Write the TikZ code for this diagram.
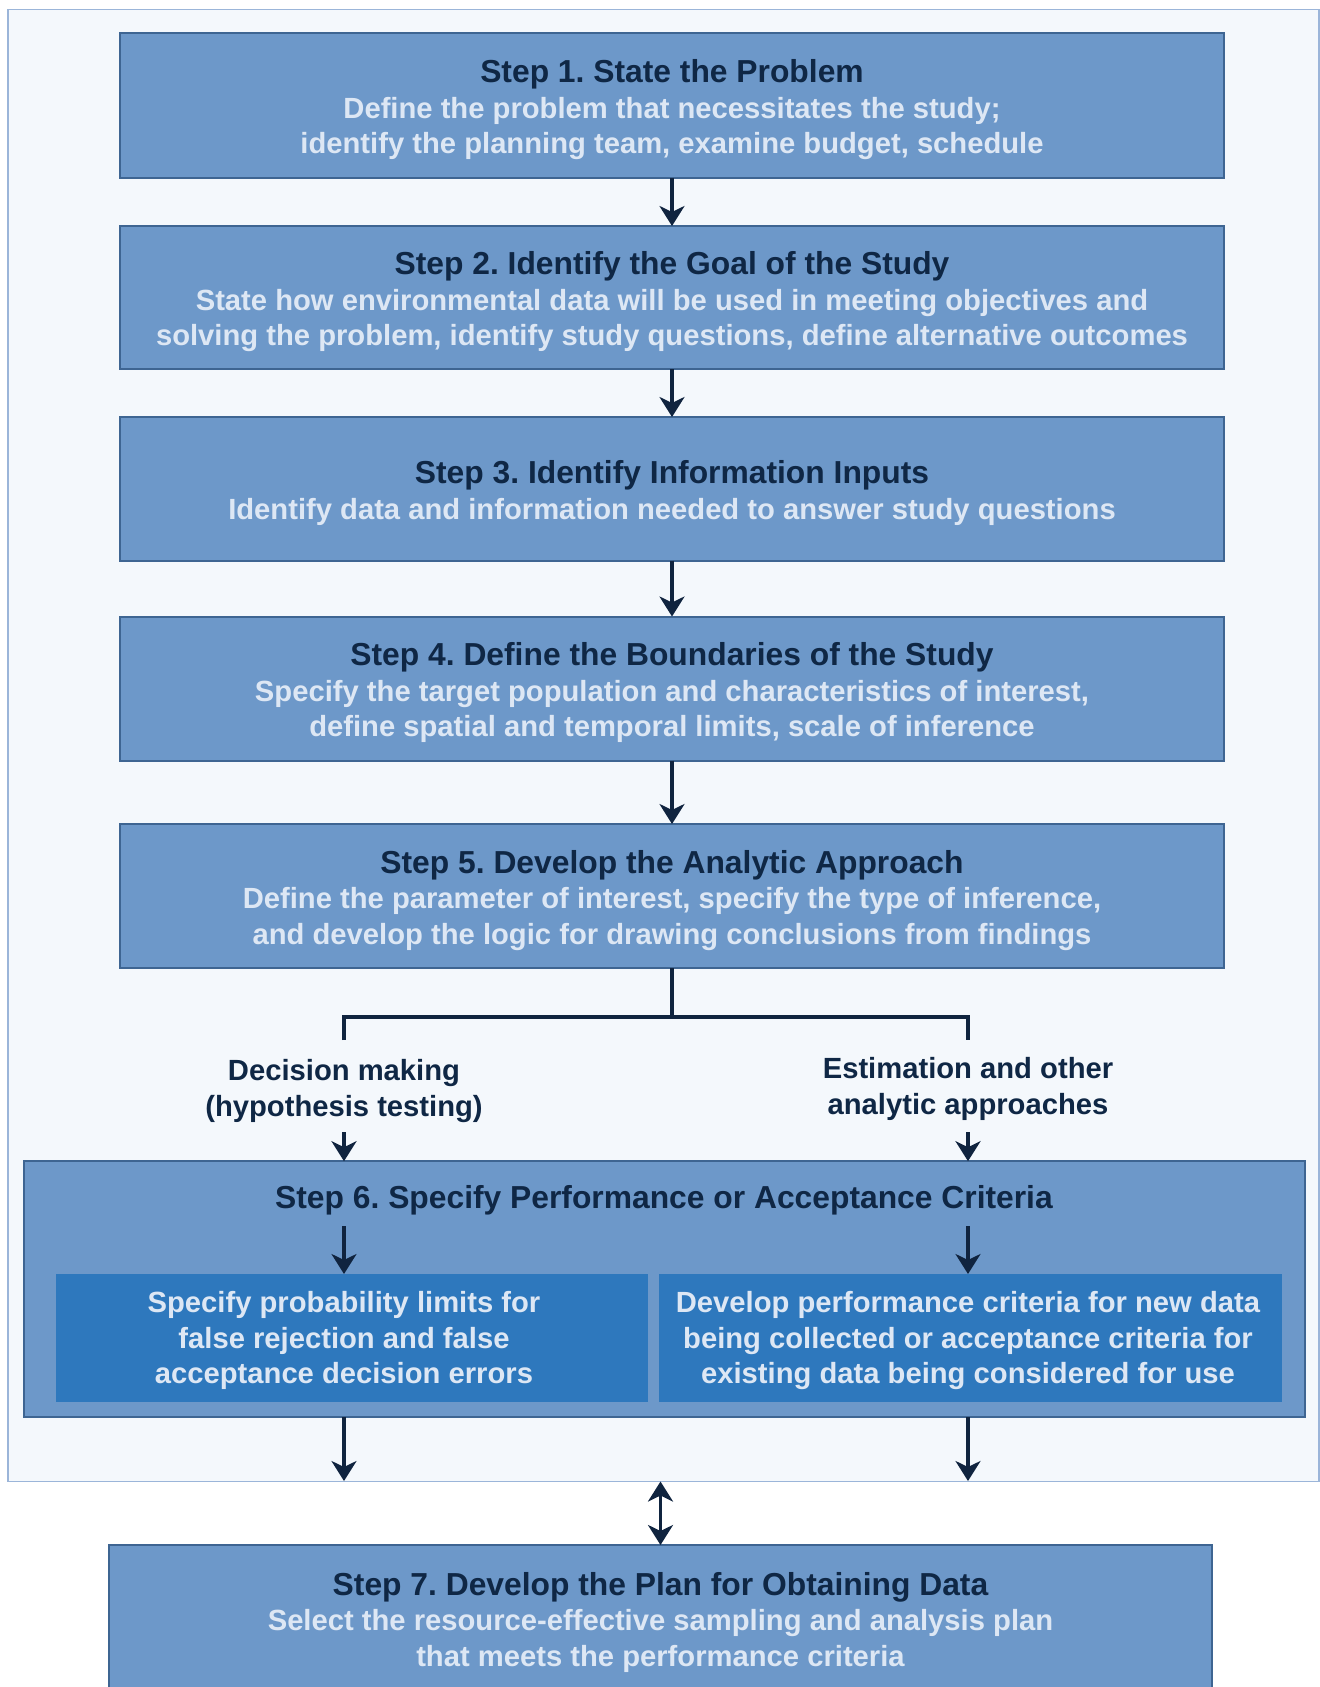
\documentclass[tikz,border=0pt]{standalone}
\usepackage{fontspec}
\setmainfont{Liberation Sans}
\usetikzlibrary{arrows.meta}
\definecolor{panelfill}{HTML}{F4F8FC}
\definecolor{paneldraw}{HTML}{9BB5D9}
\definecolor{boxfill}{HTML}{6D98C9}
\definecolor{boxdraw}{HTML}{3E6592}
\definecolor{innerfill}{HTML}{2E78BD}
\definecolor{navy}{HTML}{0F2745}
\definecolor{lighttext}{HTML}{DDE7F4}
\definecolor{linec}{HTML}{10243F}
\newcommand{\ttl}[1]{{\color{navy}\fontsize{31.8}{35.5}\selectfont #1}}
\newcommand{\bdy}[1]{{\color{lighttext}\fontsize{29.2}{35.5}\selectfont #1}}
\tikzset{
  panelbox/.style={draw=paneldraw, line width=1.6pt, fill=panelfill, inner sep=0pt, outer sep=0pt},
  stepbox/.style={draw=boxdraw, line width=2pt, fill=boxfill, minimum width=1104pt, inner sep=0pt, outer sep=0pt},
  steptext/.style={align=center, inner sep=0pt, font=\frenchspacing\fontsize{29.2}{35.5}\selectfont\bfseries},
  innerbox/.style={fill=innerfill, minimum height=128pt, inner sep=0pt, outer sep=0pt},
  innertext/.style={align=center, text=lighttext, inner sep=0pt, font=\frenchspacing\fontsize{29.2}{35.5}\selectfont\bfseries},
  lbl/.style={align=center, text=navy, inner sep=0pt, font=\frenchspacing\fontsize{29.2}{35.5}\selectfont\bfseries},
  titletext/.style={text=navy, inner sep=0pt, font=\frenchspacing\fontsize{31.8}{35.5}\selectfont\bfseries},
  conn/.style={draw=linec, line width=3.2pt},
  arr/.style={conn, -{Stealth[length=20pt,width=25pt,inset=6pt]}},
  arrtwo/.style={conn, {Stealth[length=20pt,width=25pt,inset=6pt]}-{Stealth[length=20pt,width=25pt,inset=6pt]}}
}
\begin{document}
\begin{tikzpicture}[x=1pt,y=-1pt]
\useasboundingbox (0,0) rectangle (1320,1687);
\fill[white] (0,0) rectangle (1320,1687);
\node[panelbox, minimum width=1310.7pt, minimum height=1472pt] (panel) at (663.6,745.5) {};

\node[stepbox, minimum height=144.5pt] (s1) at (672,105.4) {};
\node[steptext] (t1) at (672,109.6)
  {\ttl{Step 1. State the Problem}\\\bdy{Define the problem that necessitates the study;}\\\bdy{identify the planning team, examine budget, schedule}};
\node[stepbox, minimum height=143pt] (s2) at (672,297.5) {};
\node[steptext] (t2) at (672,301.7)
  {\ttl{Step 2. Identify the Goal of the Study}\\\bdy{State how environmental data will be used in meeting objectives and}\\\bdy{solving the problem, identify study questions, define alternative outcomes}};
\node[stepbox, minimum height=143.6pt] (s3) at (672,488.8) {};
\node[steptext] (t3) at (672,493)
  {\ttl{Step 3. Identify Information Inputs}\\\bdy{Identify data and information needed to answer study questions}};
\node[stepbox, minimum height=144pt] (s4) at (672,688.5) {};
\node[steptext] (t4) at (672,692.7)
  {\ttl{Step 4. Define the Boundaries of the Study}\\\bdy{Specify the target population and characteristics of interest,}\\\bdy{define spatial and temporal limits, scale of inference}};
\node[stepbox, minimum height=144pt] (s5) at (672,896) {};
\node[steptext] (t5) at (672,900.2)
  {\ttl{Step 5. Develop the Analytic Approach}\\\bdy{Define the parameter of interest, specify the type of inference,}\\\bdy{and develop the logic for drawing conclusions from findings}};

\draw[arr] (s1) -- (s2);
\draw[arr] (s2) -- (s3);
\draw[arr] (s3) -- (s4);
\draw[arr] (s4) -- (s5);

\coordinate (bj) at (672,1017);
\coordinate (dl) at (344,1040);
\coordinate (dr) at (968,1040);
\draw[conn] (s5.south) -- (bj);
\draw[conn] (dl) |- (bj) -| (dr);

\node[lbl] (dm) at (344,1091) {Decision making\\(hypothesis testing)};
\node[lbl] (est) at (968,1089) {Estimation and other\\analytic approaches};

\node[stepbox, minimum width=1281pt, minimum height=256pt] (s6) at (664.5,1289.2) {};
\node[titletext] (s6t) at (664,1200.5) {Step 6. Specify Performance or Acceptance Criteria};
\node[innerbox, minimum width=592pt] (ib1) at (352,1338) {};
\node[innertext] (it1) at (344,1340.5) {Specify probability limits for\\false rejection and false\\acceptance decision errors};
\node[innerbox, minimum width=623pt] (ib2) at (970.5,1338) {};
\node[innertext] (it2) at (968,1340.5) {Develop performance criteria for new data\\being collected or acceptance criteria for\\existing data being considered for use};

\coordinate (a1) at (344,1132);
\coordinate (a2) at (968,1132);
\draw[arr] (a1) -- (a1 |- s6.north);
\draw[arr] (a2) -- (a2 |- s6.north);
\coordinate (c1) at (344,1226);
\coordinate (c2) at (968,1226);
\draw[arr] (c1) -- (c1 |- ib1.north);
\draw[arr] (c2) -- (c2 |- ib2.north);
\coordinate (b1) at (344,1481);
\coordinate (b2) at (968,1481);
\draw[arr] (b1 |- s6.south) -- (b1);
\draw[arr] (b2 |- s6.south) -- (b2);

\node[stepbox, minimum width=1103pt, minimum height=146pt, anchor=north] (s7) at (660.5,1545) {};
\node[steptext] (t7) at (660.5,1622)
  {\ttl{Step 7. Develop the Plan for Obtaining Data}\\\bdy{Select the resource-effective sampling and analysis plan}\\\bdy{that meets the performance criteria}};
\draw[arrtwo] (s7.north |- panel.south) -- (s7.north);
\end{tikzpicture}
\end{document}
